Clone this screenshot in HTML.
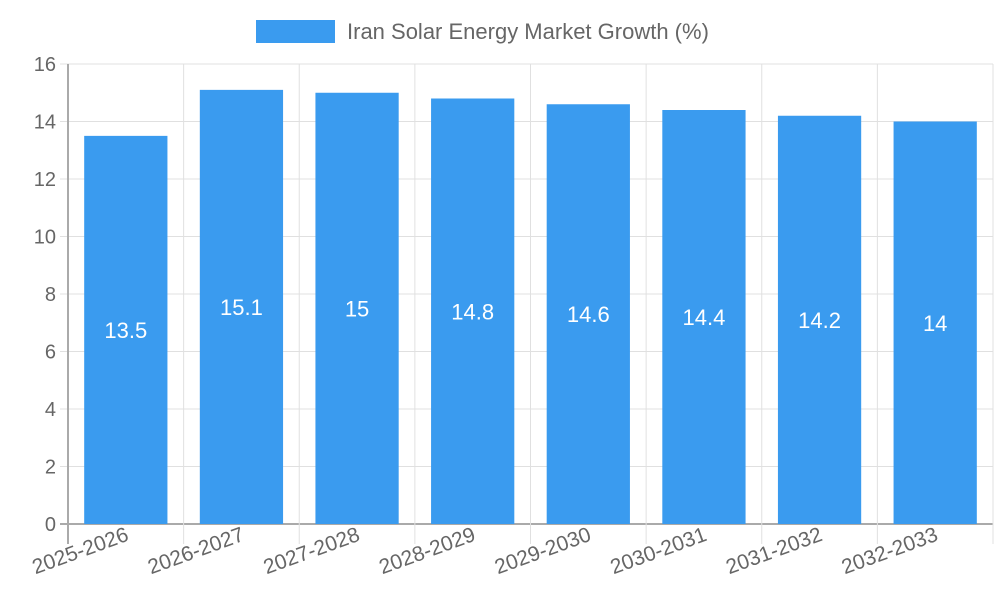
<!DOCTYPE html>
<html><head><meta charset="utf-8"><style>
body{margin:0;background:#fff;}
svg{display:block;font-family:"Liberation Sans",sans-serif;}
</style></head><body>
<svg id="chart" width="1000" height="600">
<g>
<rect x="256" y="20" width="79" height="23" fill="#3a9bef"></rect>
<text x="347" y="39" font-size="22" fill="#666">Iran Solar Energy Market Growth (%)</text>
</g>
<g id="grid"></g><g id="bars"></g><g id="labels"></g>
</svg>
<script>
const categories=["2025-2026","2026-2027","2027-2028","2028-2029","2029-2030","2030-2031","2031-2032","2032-2033"];
const values=[13.5,15.1,15,14.8,14.6,14.4,14.2,14];
const yTicks=[0,2,4,6,8,10,12,14,16];
const L=68,R=993,T=64,B=524,yMax=16;
const band=(R-L)/categories.length;
const y=v=>B-(v/yMax)*(B-T);
const xc=i=>L+band*(i+0.5);
const NS="http://www.w3.org/2000/svg";
function mk(tag,attrs,parent,txt){const e=document.createElementNS(NS,tag);for(const k in attrs)e.setAttribute(k,attrs[k]);if(txt!==undefined)e.textContent=txt;parent.appendChild(e);return e;}
const grid=document.getElementById('grid'),bars=document.getElementById('bars'),labels=document.getElementById('labels');
yTicks.forEach(t=>{
 const l=mk('line',{x1:L-8,x2:R,y1:y(t),y2:y(t),stroke:t===0?'#aaa':'#e0e0e0','stroke-width':t===0?2:1},grid);
 
 
 const tx=mk('text',{x:L-12,y:y(t)+7,'font-size':20,fill:'#666','text-anchor':'end'},labels,String(t));
 
 
});
for(let i=0;i<=categories.length;i++){
 const x=L+band*i;
 const l=mk('line',{x1:x,x2:x,y1:T,y2:B+20,stroke:i===0?'#aaa':'#e0e0e0','stroke-width':i===0?2:1},grid);
 
 
}
categories.forEach((c,i)=>{
 const w=band*0.72,x=xc(i)-w/2;
 const r=mk('rect',{x:x,y:y(values[i]),width:w,height:B-y(values[i]),fill:'#3a9bef'},bars);
 
 
 const v=mk('text',{x:xc(i),y:(y(values[i])+B)/2+8,'font-size':22,fill:'#fff','text-anchor':'middle'},labels,String(values[i]));
 
 
 const cx=xc(i)+4,cy=540;
 const t=mk('text',{x:cx,y:cy,'font-size':21,fill:'#666','text-anchor':'end',transform:`rotate(-20 ${cx} ${cy})`},labels,c);
 
 
});
</script>
</body></html>
